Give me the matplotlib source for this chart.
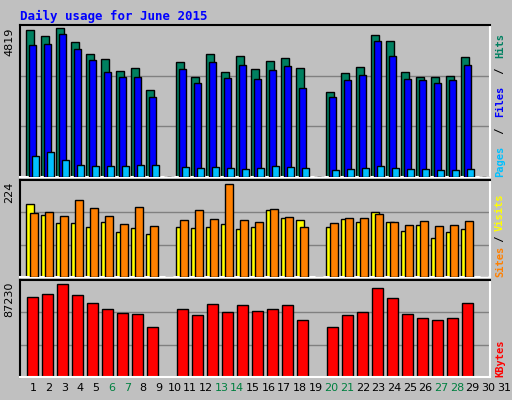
import matplotlib
matplotlib.use("Agg")
import matplotlib.pyplot as plt
import numpy as np

days = list(range(1, 32))
weekend = [6, 7, 13, 14, 20, 21, 27, 28]

def conv(tops, base, h, vmax):
    return [0 if t is None else (base - t) / h * vmax for t in tops]

hits_px = [31,37,29,43,55,60,71,68,90,None,63,77,55,72,57,69,62,59,68,None,92,73,67,36,42,72,77,77,76,58,None]
files_px = [46,45,35,50,61,72,77,77,97,None,69,83,63,78,65,79,70,66,88,None,97,80,75,42,57,79,80,83,80,65,None]
pages_px = [155,151,159,164,165,165,165,164,164,None,166,167,166,167,168,167,165,166,167,None,169,168,167,165,167,168,168,169,169,168,None]
visits_px = [213,212,216,200,208,216,224,207,226,None,220,210,219,184,220,222,209,217,227,None,223,218,218,214,222,225,221,226,225,221,None]
sites_px = [204,215,223,223,227,222,232,228,234,None,227,228,227,224,229,227,210,218,220,None,227,219,222,212,222,231,225,238,232,229,None]
kb_px = [297,294,284,295,303,309,313,314,327,None,309,315,304,312,305,311,309,305,320,None,327,315,312,288,298,314,318,320,318,303,None]

hits = conv(hits_px, 176, 147, 4819)
files = conv(files_px, 176, 147, 4819)
pages = conv(pages_px, 176, 147, 4819)
visits = conv(visits_px, 277, 93, 224)
sites = conv(sites_px, 277, 93, 224)
kbytes = conv(kb_px, 376, 92, 87230)

BG = "#C0C0C0"
fig = plt.figure(figsize=(5.12, 4.0), dpi=100, facecolor=BG)
mono = "DejaVu Sans Mono"

def mkax(bottom, height, vmax):
    ax = fig.add_axes([20/512, bottom, 470/512, height])
    ax.set_facecolor(BG)
    ax.set_xlim(0.13, 0.13 + 470/15)
    ax.set_ylim(0, vmax)
    ax.set_xticks([]); ax.set_yticks([])
    for f in (1/3, 2/3):
        ax.axhline(vmax*f, color="#808080", lw=1, zorder=0)
    for s in ax.spines.values():
        s.set_color("black"); s.set_linewidth(1.5)
    ax.spines["bottom"].set_color("white")
    ax.spines["right"].set_color("white")
    return ax

d = np.array(days)
ax1 = mkax(1-177/400, 152/400, 4819*150/147)
ax1.bar(d-0.45, hits, 0.5, align="edge", color="#008060", edgecolor="black", lw=1, zorder=2)
ax1.bar(d-0.3, files, 0.5, align="edge", color="#0000FF", edgecolor="black", lw=1, zorder=3)
ax1.bar(d-0.1, pages, 0.5, align="edge", color="#00C0FF", edgecolor="black", lw=1, zorder=4)

ax2 = mkax(1-277/400, 97/400, 224*97/93)
ax2.bar(d-0.45, sites, 0.5, align="edge", color="#FFFF00", edgecolor="black", lw=1, zorder=2)
ax2.bar(d-0.2, visits, 0.55, align="edge", color="#FF8000", edgecolor="black", lw=1, zorder=3)

ax3 = mkax(1-377/400, 97/400, 87230*96/92)
ax3.bar(d-0.4, kbytes, 0.7, align="edge", color="#FF0000", edgecolor="black", lw=1, zorder=2)

for dd in days:
    xl = 1 + (dd-1)*15.7/15
    ax3.text(xl, -0.11, str(dd), transform=ax3.get_xaxis_transform(), ha="center", va="center",
             fontsize=8, family="DejaVu Sans", color="#008040" if dd in weekend else "black", clip_on=False)

fig.text(20/512, 1-16/400, "Daily usage for June 2015", color="#0000FF", fontsize=9,
         fontweight="bold", family=mono, ha="left", va="center")
fig.text(4/512, 1-28/400, "4819", rotation=90, ha="left", va="top", fontsize=8)
fig.text(4/512, 1-182/400, "224", rotation=90, ha="left", va="top", fontsize=8)
fig.text(4/512, 1-282/400, "87230", rotation=90, ha="left", va="top", fontsize=8)

def rlabel(y_bottom, y_top, parts):
    n = sum(len(t) for t, _ in parts)
    step = (y_bottom - y_top) / n
    y = y_bottom
    for txt, col in parts:
        fig.text(500/512, 1 - y/400, txt, rotation=90, ha="center", va="bottom", fontsize=7.5,
                 fontweight="bold", family=mono, color=col)
        y -= step * len(txt)

rlabel(177, 28, [("Pages", "#00C0FF"), (" / ", "black"), ("Files", "#0000FF"), (" / ", "black"), ("Hits", "#008060")])
rlabel(277, 197, [("Sites", "#FF8000"), (" / ", "black"), ("Visits", "#FFFF00")])
rlabel(377, 334, [("KBytes", "#FF0000")])

fig.savefig("out.png", dpi=100, facecolor=BG)
